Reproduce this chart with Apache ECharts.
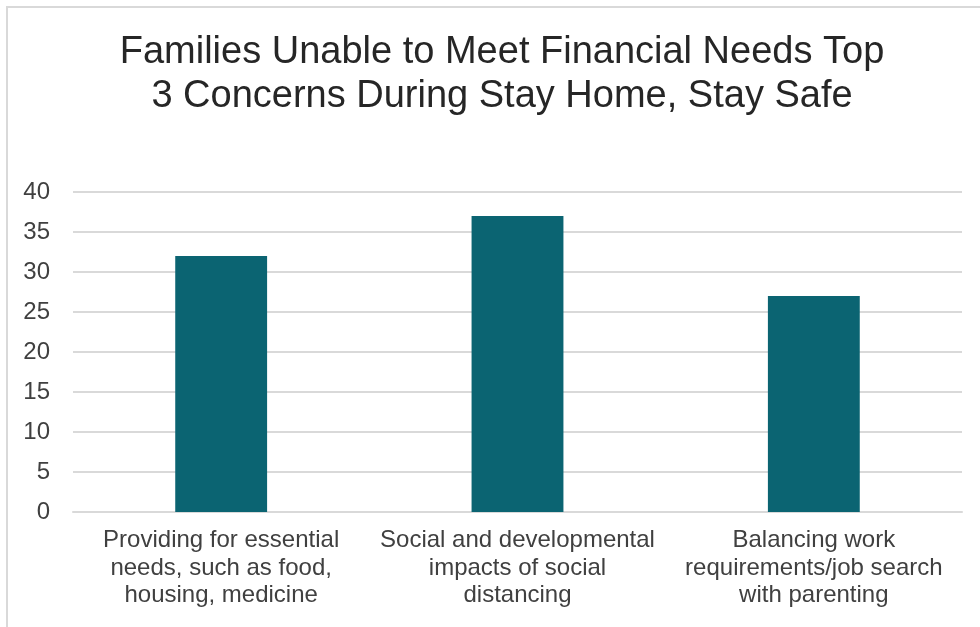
<!DOCTYPE html>
<html>
<head>
<meta charset="utf-8">
<script src="https://cdn.jsdelivr.net/npm/echarts@6/dist/echarts.min.js"></script>
<style>
  html, body { margin: 0; padding: 0; background: #fff; }
  #frame { position: absolute; left: 6px; top: 6px; width: 980px; height: 627px;
           border-left: 2px solid #d9d9d9; border-top: 2px solid #d9d9d9; box-sizing: border-box; }
  #chart { position: absolute; left: 0; top: 0; width: 980px; height: 627px; }
</style>
</head>
<body>
<div id="frame"></div>
<div id="chart"></div>
<script>
// Survey concerns and share of families (%)
const categories = [
  'Providing for essential\nneeds, such as food,\nhousing, medicine',
  'Social and developmental\nimpacts of social\ndistancing',
  'Balancing work\nrequirements/job search\nwith parenting'
];
const values = [32, 37, 27];
const yTicks = { min: 0, max: 40, interval: 5 };
const titleText = 'Families Unable to Meet Financial Needs Top\n3 Concerns During Stay Home, Stay Safe';

const chart = echarts.init(document.getElementById('chart'), null, { renderer: 'canvas' });
chart.setOption({
  animation: false,
  title: {
    text: titleText,
    left: 497,
    top: 26,
    textAlign: 'center',
    textStyle: {
      fontFamily: 'Liberation Sans, Arial, sans-serif',
      fontSize: 38,
      fontWeight: 'normal',
      color: '#262626',
      lineHeight: 44
    }
  },
  grid: { left: 73, right: 18, top: 192, bottom: 115, containLabel: false },
  xAxis: {
    type: 'category',
    data: categories,
    axisLine: { show: true, lineStyle: { color: '#d9d9d9', width: 2 } },
    axisTick: { show: false },
    axisLabel: {
      interval: 0,
      margin: 15,
      fontFamily: 'Liberation Sans, Arial, sans-serif',
      fontSize: 24,
      lineHeight: 27.5,
      color: '#404040'
    }
  },
  yAxis: {
    type: 'value',
    min: yTicks.min,
    max: yTicks.max,
    interval: yTicks.interval,
    axisLine: { show: false },
    axisTick: { show: false },
    splitLine: { lineStyle: { color: '#d9d9d9', width: 2 } },
    axisLabel: {
      margin: 23,
      fontFamily: 'Liberation Sans, Arial, sans-serif',
      fontSize: 24,
      color: '#404040'
    }
  },
  series: [{
    type: 'bar',
    data: values,
    barWidth: '31%',
    itemStyle: { color: '#0b6472' }
  }]
});
</script>
</body>
</html>
